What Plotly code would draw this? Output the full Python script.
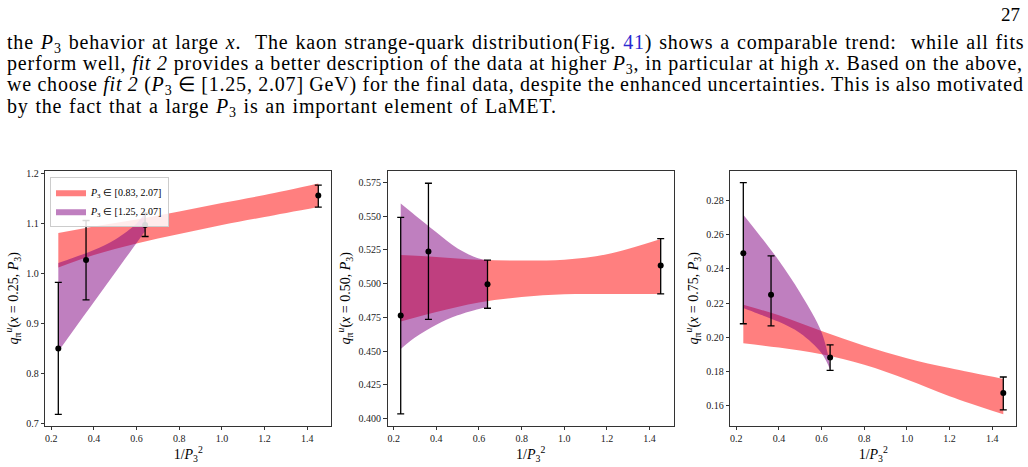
import plotly.graph_objects as go

W, H = 1028, 467

# ---------------- data ----------------
x_pts = [0.233, 0.363, 0.640, 1.452]
band_x_red = [0.233, 0.4, 0.6, 0.8, 1.0, 1.2, 1.452]
band_x_pur = [0.233, 0.3, 0.4, 0.5, 0.6, 0.64]

# panel x = 0.25
p1_mid = [0.850, 1.027, 1.097, 1.156]
p1_hi = [0.982, 1.106, 1.121, 1.177]
p1_lo = [0.718, 0.947, 1.074, 1.133]
p1_red_hi = [1.081, 1.094, 1.108, 1.124, 1.141, 1.157, 1.180]
p1_red_lo = [1.012, 1.037, 1.060, 1.079, 1.097, 1.113, 1.133]
p1_pur_hi = [1.021, 1.031, 1.047, 1.068, 1.100, 1.121]
p1_pur_lo = [0.844, 0.884, 0.943, 1.002, 1.061, 1.085]

# panel x = 0.50
p2_mid = [0.4763, 0.5238, 0.4995, 0.5133]
p2_hi = [0.5490, 0.5743, 0.5173, 0.5333]
p2_lo = [0.4035, 0.4734, 0.4817, 0.4924]
p2_red_hi = [0.5211, 0.5197, 0.5177, 0.5170, 0.5177, 0.5217, 0.5330]
p2_red_lo = [0.4719, 0.4790, 0.4860, 0.4900, 0.4920, 0.4922, 0.4922]
p2_pur_hi = [0.5592, 0.5506, 0.5380, 0.5260, 0.5185, 0.5172]
p2_pur_lo = [0.4515, 0.4600, 0.4695, 0.4765, 0.4812, 0.4822]

# panel x = 0.75
p3_mid = [0.2492, 0.2249, 0.1883, 0.1675]
p3_hi = [0.2904, 0.2476, 0.1956, 0.1769]
p3_lo = [0.2080, 0.2068, 0.1808, 0.1577]
p3_red_hi = [0.2191, 0.2129, 0.2037, 0.1952, 0.1879, 0.1821, 0.1758]
p3_red_lo = [0.1966, 0.1941, 0.1902, 0.1840, 0.1754, 0.1657, 0.1551]
p3_pur_hi = [0.2717, 0.2612, 0.2448, 0.2260, 0.2030, 0.1840]
p3_pur_lo = [0.2172, 0.2140, 0.2091, 0.2024, 0.1908, 0.1812]

legend_names = ["<i>P</i><sub>3</sub> ∈ [0.83, 2.07]", "<i>P</i><sub>3</sub> ∈ [1.25, 2.07]"]
x_labels = ["0.25", "0.50", "0.75"]

x_ticks = [0.2, 0.4, 0.6, 0.8, 1.0, 1.2, 1.4]
y_ticks = [
    [0.7, 0.8, 0.9, 1.0, 1.1, 1.2],
    [0.400, 0.425, 0.450, 0.475, 0.500, 0.525, 0.550, 0.575],
    [0.16, 0.18, 0.20, 0.22, 0.24, 0.26, 0.28],
]
y_fmt = [".1f", ".3f", ".2f"]
y_ranges = [[0.695, 1.2055], [0.3946, 0.5835], [0.1484, 0.2973]]
x_range = [0.172, 1.513]

text_lines = [
    "the <i>P</i><sub>3</sub> behavior at large <i>x</i>.  The kaon strange-quark distribution(Fig. "
    "<span style='color:#2a2ad0'>41</span>) shows a comparable trend:  while all fits",
    "perform well, <i>fit 2</i> provides a better description of the data at higher <i>P</i><sub>3</sub>, "
    "in particular at high <i>x</i>. Based on the above,",
    "we choose <i>fit 2</i> (<i>P</i><sub>3</sub> ∈ [1.25, 2.07] GeV) for the final data, despite the "
    "enhanced uncertainties. This is also motivated",
    "by the fact that a large <i>P</i><sub>3</sub> is an important element of LaMET.",
]
page_number = "27"

# ---------------- layout geometry (pixels) ----------------
panels_px = [(45.3, 331.3), (387.7, 673.7), (730.3, 1016.3)]
top_px, bot_px = 170.0, 428.3
line_y = [41, 62.5, 84, 105.5]
letter_sp = 0.8
word_sp = [1.22, 0.04, -0.3, 1.0]

RED = "rgba(255,0,0,0.5)"
PUR = "rgba(128,0,128,0.5)"
SERIF = "Liberation Serif"

fig = go.Figure()
series = [
    (p1_mid, p1_hi, p1_lo, p1_red_hi, p1_red_lo, p1_pur_hi, p1_pur_lo),
    (p2_mid, p2_hi, p2_lo, p2_red_hi, p2_red_lo, p2_pur_hi, p2_pur_lo),
    (p3_mid, p3_hi, p3_lo, p3_red_hi, p3_red_lo, p3_pur_hi, p3_pur_lo),
]

for i, (mid, hi, lo, rh, rl, ph, pl) in enumerate(series):
    xa = "x" if i == 0 else f"x{i+1}"
    ya = "y" if i == 0 else f"y{i+1}"
    fig.add_trace(go.Scatter(x=band_x_red, y=rl, mode="lines", line=dict(width=0, shape="spline"),
                             xaxis=xa, yaxis=ya, showlegend=False, hoverinfo="skip"))
    fig.add_trace(go.Scatter(x=band_x_red, y=rh, mode="lines", line=dict(width=0, shape="spline"),
                             fill="tonexty", fillcolor=RED, xaxis=xa, yaxis=ya,
                             name=legend_names[0], showlegend=(i == 0), hoverinfo="skip"))
    fig.add_trace(go.Scatter(x=band_x_pur, y=pl, mode="lines", line=dict(width=0, shape="spline"),
                             xaxis=xa, yaxis=ya, showlegend=False, hoverinfo="skip"))
    fig.add_trace(go.Scatter(x=band_x_pur, y=ph, mode="lines", line=dict(width=0, shape="spline"),
                             fill="tonexty", fillcolor=PUR, xaxis=xa, yaxis=ya,
                             name=legend_names[1], showlegend=(i == 0), hoverinfo="skip"))
    fig.add_trace(go.Scatter(
        x=x_pts, y=mid, mode="markers", xaxis=xa, yaxis=ya, showlegend=False,
        marker=dict(color="black", size=6),
        error_y=dict(type="data", symmetric=False,
                     array=[h - m for h, m in zip(hi, mid)],
                     arrayminus=[m - l for m, l in zip(mid, lo)],
                     color="black", thickness=1.3, width=3.5)))

axis_common = dict(showline=True, mirror=True, linecolor="#333333", linewidth=1.2,
                   ticks="outside", ticklen=3.5, tickwidth=1, tickcolor="#333333",
                   showgrid=False, zeroline=False,
                   tickfont=dict(family=SERIF, size=10, color="#222222"))

layout = dict(width=W, height=H, margin=dict(l=0, r=0, t=0, b=0),
              paper_bgcolor="white", plot_bgcolor="white",
              font=dict(family=SERIF, color="black"))
for i in range(3):
    sfx = "" if i == 0 else str(i + 1)
    x0, x1 = panels_px[i]
    layout["xaxis" + sfx] = dict(
        axis_common, domain=[x0 / W, x1 / W], range=x_range, anchor="y" + sfx,
        tickvals=x_ticks, ticktext=[f"{v:.1f}" for v in x_ticks],
        title=dict(text="1/<i>P</i><sub>3</sub><sup>2</sup>", font=dict(family=SERIF, size=14), standoff=2))
    layout["yaxis" + sfx] = dict(
        axis_common, domain=[1 - bot_px / H, 1 - top_px / H], range=y_ranges[i], anchor="x" + sfx,
        tickvals=y_ticks[i], ticktext=[format(v, y_fmt[i]) for v in y_ticks[i]],
        title=dict(text=f"<i>q</i><sub>π</sub><sup><i>u</i></sup>(<i>x</i> = {x_labels[i]}, <i>P</i><sub>3</sub>)",
                   font=dict(family=SERIF, size=14), standoff=4))

layout["legend"] = dict(x=50 / W, y=1 - 176 / H, xanchor="left", yanchor="top",
                        traceorder="normal",
                        bgcolor="rgba(255,255,255,0.85)", bordercolor="#cccccc", borderwidth=1,
                        font=dict(family=SERIF, size=10), tracegroupgap=0, itemwidth=30)

annotations = []
for txt, yy, ws in zip(text_lines, line_y, word_sp):
    styled = f"<span style='letter-spacing:{letter_sp}px;word-spacing:{ws}px'>{txt}</span>"
    annotations.append(dict(text=styled, x=5 / W, y=1 - yy / H, xref="paper", yref="paper",
                            xanchor="left", yanchor="middle", showarrow=False,
                            font=dict(family=SERIF, size=20, color="black")))
annotations.append(dict(text=page_number, x=1022 / W, y=1 - 12 / H, xref="paper", yref="paper",
                        xanchor="right", yanchor="middle", showarrow=False,
                        font=dict(family=SERIF, size=19, color="black")))
layout["annotations"] = annotations

fig.update_layout(**layout)
fig.write_html("out.html")
